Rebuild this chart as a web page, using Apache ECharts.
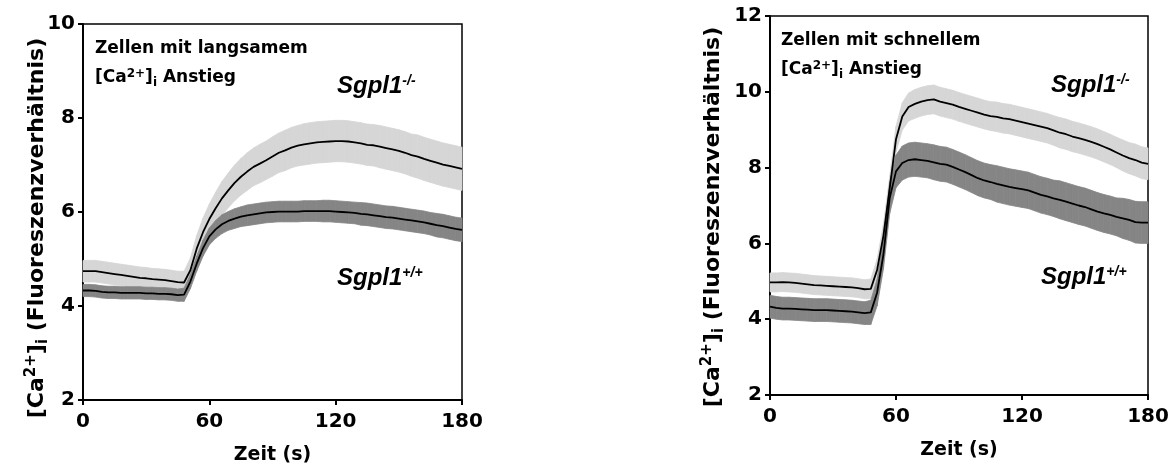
<!DOCTYPE html>
<html><head><meta charset="utf-8">
<script src="https://cdn.jsdelivr.net/npm/echarts@6/dist/echarts.min.js"></script>
<style>html,body{margin:0;padding:0;background:#fff}#c{width:1173px;height:470px}</style>
</head><body><div id="c"></div>
<script>
// time points (s)
const times = [0,3,6,9,12,15,18,21,24,27,30,33,36,39,42,45,48,51,54,57,60,63,66,69,72,75,78,81,84,87,90,93,96,99,102,105,108,111,114,117,120,123,126,129,132,135,138,141,144,147,150,153,156,159,162,165,168,171,174,177,180];
const xTicks = [0, 60, 120, 180];

// Left panel: Zellen mit langsamem Anstieg
const leftKoMean = [4.74,4.74,4.74,4.72,4.70,4.68,4.66,4.64,4.62,4.60,4.59,4.57,4.56,4.55,4.53,4.51,
  4.50,4.76,5.22,5.57,5.85,6.08,6.29,6.46,6.62,6.75,
  6.86,6.96,7.03,7.10,7.18,7.26,7.31,7.37,7.41,7.44,
  7.46,7.48,7.49,7.50,7.51,7.51,7.50,7.48,7.46,7.43,
  7.42,7.39,7.36,7.33,7.30,7.26,7.21,7.18,7.13,7.09,
  7.05,7.01,6.98,6.95,6.92];
const leftKoSem = [0.23,0.23,0.23,0.23,0.23,0.23,0.23,0.23,0.23,0.23,0.23,0.23,0.23,0.23,0.23,0.23,
  0.24,0.26,0.28,0.30,0.32,0.34,0.36,0.37,0.38,0.39,
  0.40,0.40,0.41,0.41,0.42,0.42,0.43,0.43,0.43,0.44,
  0.44,0.44,0.44,0.44,0.44,0.44,0.44,0.44,0.44,0.44,
  0.44,0.45,0.45,0.45,0.45,0.45,0.45,0.46,0.46,0.46,
  0.46,0.46,0.46,0.46,0.46];
const leftWtMean = [4.33,4.33,4.32,4.30,4.29,4.29,4.28,4.28,4.28,4.28,4.27,4.27,4.26,4.26,4.25,4.23,
  4.24,4.52,4.90,5.23,5.48,5.63,5.74,5.81,5.86,5.90,
  5.93,5.95,5.97,5.99,6.00,6.01,6.01,6.01,6.01,6.02,
  6.02,6.02,6.02,6.02,6.01,6.00,5.99,5.98,5.96,5.95,
  5.93,5.91,5.89,5.88,5.86,5.84,5.82,5.80,5.78,5.75,
  5.72,5.70,5.67,5.64,5.62];
const leftWtSem = [0.13,0.13,0.13,0.13,0.13,0.13,0.13,0.13,0.13,0.13,0.13,0.13,0.13,0.13,0.13,0.13,
  0.14,0.15,0.16,0.17,0.18,0.19,0.20,0.20,0.21,0.21,
  0.22,0.22,0.22,0.22,0.22,0.22,0.22,0.22,0.22,0.22,
  0.22,0.22,0.23,0.23,0.23,0.23,0.23,0.23,0.24,0.24,
  0.24,0.24,0.24,0.24,0.24,0.24,0.24,0.24,0.24,0.24,
  0.25,0.25,0.25,0.25,0.25];

// Right panel: Zellen mit schnellem Anstieg
const rightKoMean = [4.97,4.97,4.98,4.97,4.96,4.94,4.92,4.90,4.89,4.88,4.87,4.86,4.85,4.84,4.82,4.79,
  4.80,5.30,6.20,7.45,8.75,9.35,9.60,9.68,9.74,9.78,
  9.80,9.74,9.70,9.66,9.60,9.55,9.50,9.45,9.40,9.36,
  9.34,9.30,9.28,9.24,9.20,9.16,9.12,9.08,9.04,8.98,
  8.92,8.88,8.82,8.78,8.73,8.68,8.62,8.55,8.48,8.40,
  8.32,8.25,8.20,8.13,8.10];
const rightKoSem = [0.25,0.25,0.25,0.25,0.25,0.25,0.25,0.25,0.25,0.25,0.25,0.25,0.25,0.25,0.25,0.25,
  0.26,0.28,0.30,0.32,0.34,0.36,0.37,0.38,0.38,0.38,
  0.38,0.38,0.38,0.38,0.38,0.38,0.38,0.38,0.38,0.38,
  0.39,0.39,0.39,0.39,0.39,0.39,0.39,0.39,0.39,0.39,
  0.40,0.40,0.40,0.40,0.40,0.40,0.40,0.40,0.40,0.40,
  0.41,0.41,0.42,0.42,0.42];
const rightWtMean = [4.33,4.30,4.28,4.28,4.27,4.26,4.25,4.24,4.24,4.24,4.23,4.22,4.21,4.20,4.18,4.16,
  4.18,4.70,5.70,7.20,7.90,8.12,8.20,8.22,8.20,8.18,
  8.14,8.10,8.08,8.02,7.95,7.88,7.80,7.72,7.66,7.62,
  7.57,7.53,7.49,7.46,7.43,7.40,7.34,7.28,7.24,7.19,
  7.15,7.10,7.05,7.00,6.96,6.90,6.84,6.79,6.75,6.70,
  6.66,6.62,6.56,6.55,6.55];
const rightWtSem = [0.30,0.30,0.30,0.30,0.30,0.30,0.30,0.30,0.30,0.30,0.30,0.30,0.30,0.30,0.30,0.30,
  0.32,0.35,0.38,0.41,0.43,0.45,0.45,0.45,0.45,0.45,
  0.46,0.46,0.46,0.46,0.46,0.46,0.46,0.46,0.46,0.46,
  0.48,0.48,0.48,0.48,0.48,0.48,0.48,0.48,0.48,0.48,
  0.50,0.50,0.50,0.50,0.50,0.50,0.50,0.50,0.50,0.50,
  0.53,0.54,0.55,0.55,0.55];

const koColor = '#d6d6d6';
const wtColor = '#858585';
const FONT = 'DejaVu Sans';

function bandSeries(idx, mean, sem, color, zBand) {
  const band = times.map((t, i) => [t, +(mean[i] - sem[i]).toFixed(3), +(mean[i] + sem[i]).toFixed(3)]);
  const line = times.map((t, i) => [t, mean[i]]);
  const n = band.length;
  return [
    { type: 'custom', xAxisIndex: idx, yAxisIndex: idx, data: band, silent: true, z: zBand,
      encode: { x: 0, y: [1, 2] },
      renderItem: function (params, api) {
        const i = params.dataIndexInside;
        if (i >= n - 1) return null;
        const t0 = api.value(0, i), lo0 = api.value(1, i), hi0 = api.value(2, i);
        const t1 = api.value(0, i + 1), lo1 = api.value(1, i + 1), hi1 = api.value(2, i + 1);
        const p = [api.coord([t0, hi0]), api.coord([t1, hi1]), api.coord([t1, lo1]), api.coord([t0, lo0])];
        return { type: 'polygon', shape: { points: p },
          style: { fill: color, stroke: color, lineWidth: 0.8 } };
      }
    },
    { type: 'line', xAxisIndex: idx, yAxisIndex: idx, data: line, symbol: 'none',
      lineStyle: { color: '#000', width: 1.8 }, z: 5 }
  ];
}

const axisLabelStyle = { color: '#000', fontFamily: FONT, fontWeight: 'bold', fontSize: 20 };

function xAxis(gi) {
  return {
    type: 'value', gridIndex: gi, min: 0, max: 180, interval: 60,
    name: 'Zeit (s)', nameLocation: 'middle', nameGap: 46,
    nameTextStyle: { color: '#000', fontFamily: FONT, fontWeight: 'bold', fontSize: 19 },
    axisLine: { show: true, onZero: false, lineStyle: { color: '#000', width: 2 } },
    axisTick: { show: true, length: 5, lineStyle: { color: '#000', width: 2 } },
    axisLabel: Object.assign({ margin: 12, formatter: v => xTicks.indexOf(v) >= 0 ? String(v) : '' }, axisLabelStyle),
    splitLine: { show: false }
  };
}
function yAxis(gi, max) {
  return {
    type: 'value', gridIndex: gi, min: 2, max: max, interval: 2,
    axisLine: { show: true, onZero: false, lineStyle: { color: '#000', width: 2 } },
    axisTick: { show: true, length: 5, lineStyle: { color: '#000', width: 2 } },
    axisLabel: Object.assign({ margin: 8 }, axisLabelStyle),
    splitLine: { show: false }
  };
}

function richBase(size, italic, family) {
  return { fontFamily: family || FONT, fontWeight: 'bold', fontStyle: italic ? 'italic' : 'normal', fontSize: size, fill: '#000' };
}
function caRich(size) {
  const s = Math.round(size * 0.68);
  return {
    b: richBase(size),
    sup: Object.assign(richBase(s), { verticalAlign: 'top', padding: [0, 0, Math.round(size * 0.55), 0] }),
    sub: Object.assign(richBase(s), { verticalAlign: 'bottom' })
  };
}
function txt(x, y, text, rich, rotation, align) {
  return { type: 'text', x: x, y: y, rotation: rotation || 0, z: 100,
    style: { text: text, rich: rich, align: align || 'left', verticalAlign: 'middle', fill: '#000',
      fontFamily: FONT, fontWeight: 'bold', fontSize: 17 } };
}
const sgRich = function (size) {
  return {
    m: richBase(size, true, 'Liberation Sans'),
    s: Object.assign(richBase(Math.round(size * 0.6), true, 'Liberation Sans'), { verticalAlign: 'top' })
  };
};

const yTitle = '{b|[Ca}{sup|2+}{b|]}{sub|i}{b| (Fluoreszenzverhältnis)}';
const caLine = '{b|[Ca}{sup|2+}{b|]}{sub|i}{b| Anstieg}';

const chart = echarts.init(document.getElementById('c'));
chart.setOption({
  animation: false,
  backgroundColor: '#fff',
  grid: [
    { left: 83, top: 24, width: 379, height: 379, show: true, borderColor: '#000', borderWidth: 1.5, backgroundColor: 'transparent' },
    { left: 770, top: 16, width: 378, height: 379, show: true, borderColor: '#000', borderWidth: 1.5, backgroundColor: 'transparent' }
  ],
  xAxis: [xAxis(0), xAxis(1)],
  yAxis: [yAxis(0, 10), yAxis(1, 12)],
  series: [].concat(
    bandSeries(0, leftKoMean, leftKoSem, koColor, 1),
    bandSeries(0, leftWtMean, leftWtSem, wtColor, 2),
    bandSeries(1, rightKoMean, rightKoSem, koColor, 1),
    bandSeries(1, rightWtMean, rightWtSem, wtColor, 2)
  ),
  graphic: [
    txt(37, 228, yTitle, caRich(22), Math.PI / 2, 'center'),
    txt(713, 217, yTitle, caRich(22), Math.PI / 2, 'center'),
    txt(95, 49, '{b|Zellen mit langsamem}', caRich(17)),
    txt(95, 78, caLine, caRich(17)),
    txt(781, 41, '{b|Zellen mit schnellem}', caRich(17)),
    txt(781, 70, caLine, caRich(17)),
    txt(337, 86, '{m|Sgpl1}{s|-/-}', sgRich(24)),
    txt(337, 278, '{m|Sgpl1}{s|+/+}', sgRich(24)),
    txt(1051, 85, '{m|Sgpl1}{s|-/-}', sgRich(24)),
    txt(1041, 277, '{m|Sgpl1}{s|+/+}', sgRich(24))
  ]
});
</script>
</body></html>
